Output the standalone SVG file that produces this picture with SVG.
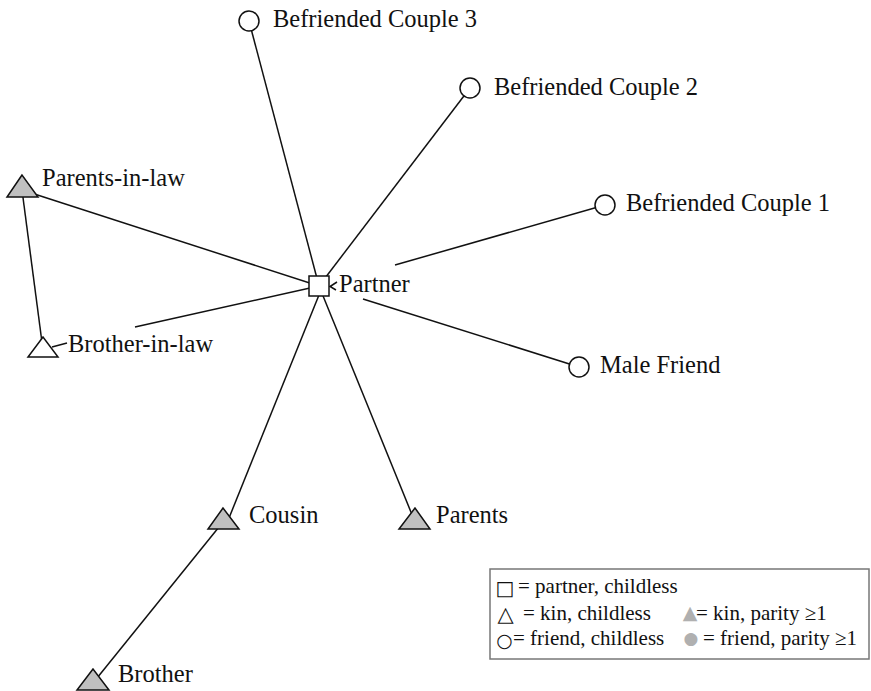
<svg xmlns="http://www.w3.org/2000/svg" width="871" height="691" viewBox="0 0 871 691">
<style>
.edge{stroke:#111;stroke-width:1.5;fill:none}
.lbl{font-family:"Liberation Serif","Times New Roman","DejaVu Serif",serif;font-size:24.5px;fill:#111}
.leg{font-family:"Liberation Serif","Times New Roman","DejaVu Serif",serif;font-size:21px;fill:#111}
.sym{font-family:"DejaVu Sans",sans-serif;text-anchor:middle;fill:#111}
.gsym{font-family:"DejaVu Sans",sans-serif;text-anchor:middle;fill:#b0b0b0}
.friend{fill:#fff;stroke:#111;stroke-width:1.5}
.kin{fill:#c0c0c0;stroke:#111;stroke-width:1.5}
.kin0{fill:#fff;stroke:#111;stroke-width:1.5}
.partner{fill:#fff;stroke:#111;stroke-width:1.5}
</style>
<rect width="871" height="691" fill="#fff"/>
<g id="connectors">
<line class="edge" x1="319" y1="286" x2="249" y2="21"/>
<line class="edge" x1="319" y1="286" x2="470" y2="88"/>
<line class="edge" x1="395" y1="265" x2="605" y2="205"/>
<line class="edge" x1="363" y1="299" x2="579" y2="367"/>
<line class="edge" x1="319" y1="286" x2="22" y2="190"/>
<line class="edge" x1="319" y1="286" x2="135" y2="327"/>
<line class="edge" x1="321" y1="290" x2="229" y2="518"/>
<line class="edge" x1="319" y1="286" x2="415" y2="522"/>
<line class="edge" x1="22" y1="190" x2="43" y2="350"/>
<line class="edge" x1="223" y1="522" x2="93" y2="683"/>
<line class="edge" x1="52" y1="347" x2="67" y2="343"/>
<polyline class="edge" points="337,282 330,286.5 336,290" stroke-width="1.2"/>
</g>
<g id="partner">
<rect class="partner" x="309" y="276" width="20" height="20"/>
<text class="lbl" x="339" y="292">Partner</text>
</g>
<g id="befriended-couple-3">
<circle class="friend" cx="249" cy="21" r="10"/>
<text class="lbl" x="273" y="27">Befriended Couple 3</text>
</g>
<g id="befriended-couple-2">
<circle class="friend" cx="470" cy="88" r="10"/>
<text class="lbl" x="494" y="95">Befriended Couple 2</text>
</g>
<g id="befriended-couple-1">
<circle class="friend" cx="605" cy="205" r="10"/>
<text class="lbl" x="626" y="211">Befriended Couple 1</text>
</g>
<g id="male-friend">
<circle class="friend" cx="579" cy="367" r="10"/>
<text class="lbl" x="600" y="373">Male Friend</text>
</g>
<g id="parents-in-law">
<polygon class="kin" points="22,175 7,197 38,197"/>
<text class="lbl" x="42" y="186">Parents-in-law</text>
</g>
<g id="brother-in-law">
<polygon class="kin0" points="43,337 28,357 58,357"/>
<text class="lbl" x="68" y="352">Brother-in-law</text>
</g>
<g id="cousin">
<polygon class="kin" points="223,508 208,529 239,529"/>
<text class="lbl" x="249" y="523">Cousin</text>
</g>
<g id="parents">
<polygon class="kin" points="415,508 399,529 430,529"/>
<text class="lbl" x="436" y="523">Parents</text>
</g>
<g id="brother">
<polygon class="kin" points="93,669 77,690 109,690"/>
<text class="lbl" x="118" y="682">Brother</text>
</g>
<g id="legend">
<rect x="490" y="569" width="379" height="90" fill="#fff" stroke="#777" stroke-width="1.5"/>
<text class="sym" x="505" y="595" style="font-size:20px">□</text>
<text class="leg" x="518" y="593">= partner, childless</text>
<text class="sym" x="505.5" y="621" style="font-size:21px">△</text>
<text class="leg" x="523" y="620">= kin, childless</text>
<text class="gsym" x="690" y="619" style="font-size:19px">▲</text>
<text class="leg" x="696" y="620">= kin, parity ≥1</text>
<text class="sym" x="504.5" y="647" style="font-size:19px">○</text>
<text class="leg" x="513" y="645">= friend, childless</text>
<text class="gsym" x="691" y="644" style="font-size:17px">●</text>
<text class="leg" x="703" y="645">= friend, parity ≥1</text>
</g>
</svg>
